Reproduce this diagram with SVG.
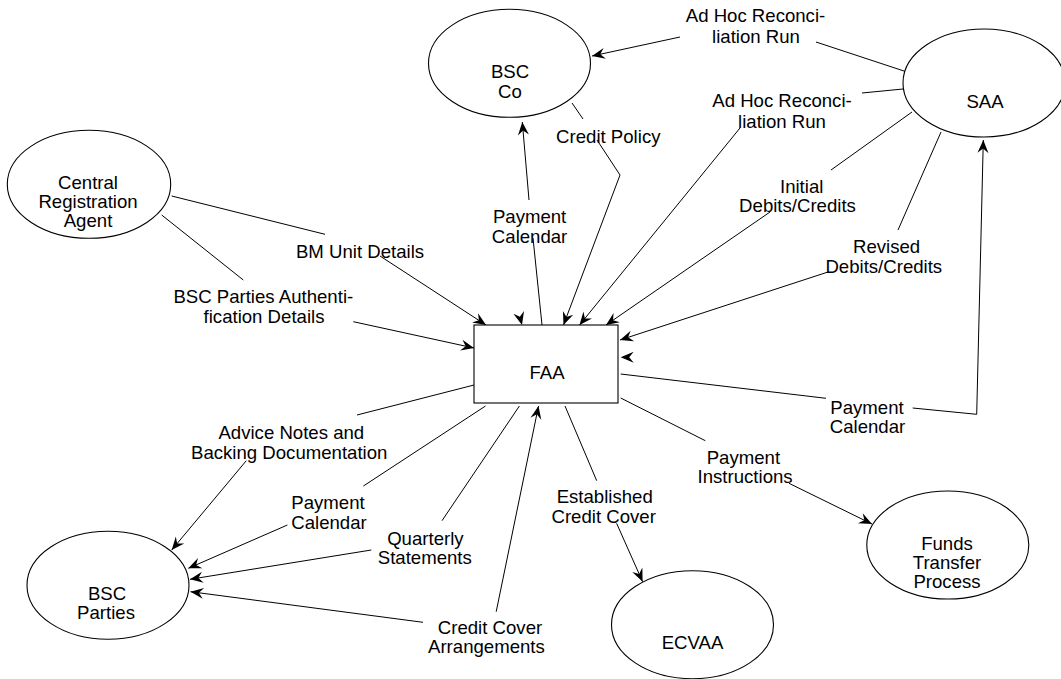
<svg xmlns="http://www.w3.org/2000/svg" width="1061" height="679" viewBox="0 0 1061 679">
<style>
.n{fill:#fff;stroke:#000;stroke-width:1.1}
.t{font-family:"Liberation Sans",Arial,sans-serif;font-size:18.6px;fill:#000;text-anchor:middle}
.c{fill:none;stroke:#000;stroke-width:1}
.a{marker-end:url(#ah)}
.g{fill:none;stroke:none;marker-end:url(#ah)}
</style>
<defs>
<marker id="ah" viewBox="-14 -7 15 14" refX="0" refY="0" markerWidth="15" markerHeight="14" markerUnits="userSpaceOnUse" orient="auto">
<path d="M0,0 L-13,-5.5 L-8.5,0 L-13,5.5 Z" fill="#000"/>
</marker>
</defs>
<rect width="1061" height="679" fill="#fff"/>
<g id="connectors">
<path class="c" d="M907,72 L816,42"/>
<path class="c a" d="M680,37 L592,56"/>
<path class="c" d="M572,103 L583,119"/>
<path class="c a" d="M597,140 L620,175 L563.5,325"/>
<path class="c" d="M542,325 L533,238"/>
<path class="c a" d="M529,200 L522.3,122"/>
<path class="c" d="M903,89 L862,93"/>
<path class="c a" d="M740,128 L579.5,325"/>
<path class="c" d="M912,112 L831,170"/>
<path class="c a" d="M770,212 L606,325"/>
<path class="c" d="M941,132 L898,230"/>
<path class="c a" d="M828,272 L620,340"/>
<path class="c" d="M171.7,196 L325,234.3"/>
<path class="c a" d="M380,256 L486,325"/>
<path class="c" d="M161.7,215 L243.3,280"/>
<path class="c a" d="M353.3,321.7 L474,348"/>
<path class="c" d="M620.7,374 L826,398.3"/>
<path class="c a" d="M912.7,408 L976.7,414.3 L983.3,140"/>
<path class="c" d="M474,385 L357,415"/>
<path class="c a" d="M246.3,460.7 L171.7,550"/>
<path class="c" d="M485.5,406 L363.4,486"/>
<path class="c a" d="M287.4,525 L188.3,568.3"/>
<path class="c" d="M519.4,406 L442,520.7"/>
<path class="c a" d="M371.3,550 L190,579.3"/>
<path class="c a" d="M423,622.3 L190.5,591.7"/>
<path class="c a" d="M496.2,611.7 L538.5,406"/>
<path class="c" d="M565,406 L596.7,480.7"/>
<path class="c a" d="M616.6,523.3 L642.6,581.7"/>
<path class="c" d="M620.7,398 L705.3,440.7"/>
<path class="c a" d="M789,483.3 L872,524"/>
<path class="g" d="M516.5,304 L522,325"/>
<path class="g" d="M640,357.3 L620.7,357.3"/>
</g>
<g id="labels">
<text class="t" x="755.5" y="21.7">Ad Hoc Reconci-</text>
<text class="t" x="756" y="42.7">liation Run</text>
<text class="t" x="608.3" y="142.5">Credit Policy</text>
<text class="t" x="782" y="107.3">Ad Hoc Reconci-</text>
<text class="t" x="782" y="127.7">liation Run</text>
<text class="t" x="529.6" y="223.3">Payment</text>
<text class="t" x="529.6" y="243">Calendar</text>
<text class="t" x="801.7" y="193.3">Initial</text>
<text class="t" x="797.5" y="212.3">Debits/Credits</text>
<text class="t" x="886.6" y="253.3">Revised</text>
<text class="t" x="883.8" y="272.7">Debits/Credits</text>
<text class="t" x="360" y="258.3">BM Unit Details</text>
<text class="t" x="263.3" y="303.3">BSC Parties Authenti-</text>
<text class="t" x="264" y="323.3">fication Details</text>
<text class="t" x="867" y="414.3">Payment</text>
<text class="t" x="867.5" y="433.3">Calendar</text>
<text class="t" x="291.3" y="439.3">Advice Notes and</text>
<text class="t" x="289.2" y="459.3">Backing Documentation</text>
<text class="t" x="328" y="509.3">Payment</text>
<text class="t" x="329" y="528.6">Calendar</text>
<text class="t" x="425.4" y="544.6">Quarterly</text>
<text class="t" x="424.8" y="564">Statements</text>
<text class="t" x="604.7" y="503.3">Established</text>
<text class="t" x="603.7" y="523.3">Credit Cover</text>
<text class="t" x="743.4" y="464">Payment</text>
<text class="t" x="745.1" y="483.3">Instructions</text>
<text class="t" x="490" y="634">Credit Cover</text>
<text class="t" x="486.4" y="653.3">Arrangements</text>
</g>
<g id="bsc-co">
<ellipse class="n" cx="509.5" cy="63.3" rx="81" ry="54"/>
<text class="t" x="510" y="78.3">BSC</text>
<text class="t" x="510" y="98.3">Co</text>
</g>
<g id="saa">
<ellipse class="n" cx="984" cy="83" rx="81" ry="54"/>
<text class="t" x="985" y="108.3">SAA</text>
</g>
<g id="central-registration-agent">
<ellipse class="n" cx="89" cy="184.3" rx="81.7" ry="54"/>
<text class="t" x="88" y="189">Central</text>
<text class="t" x="88" y="208.3">Registration</text>
<text class="t" x="88" y="227.3">Agent</text>
</g>
<g id="faa">
<rect class="n" x="474" y="325" width="144" height="78"/>
<text class="t" x="547" y="379">FAA</text>
</g>
<g id="bsc-parties">
<ellipse class="n" cx="108" cy="585.2" rx="81" ry="54"/>
<text class="t" x="107" y="599.5">BSC</text>
<text class="t" x="106" y="619">Parties</text>
</g>
<g id="ecvaa">
<ellipse class="n" cx="692.5" cy="624.7" rx="81" ry="54"/>
<text class="t" x="692.5" y="649.3">ECVAA</text>
</g>
<g id="funds-transfer-process">
<ellipse class="n" cx="947.8" cy="545" rx="81" ry="54"/>
<text class="t" x="947" y="550">Funds</text>
<text class="t" x="947" y="569.3">Transfer</text>
<text class="t" x="947" y="588.3">Process</text>
</g>
</svg>
